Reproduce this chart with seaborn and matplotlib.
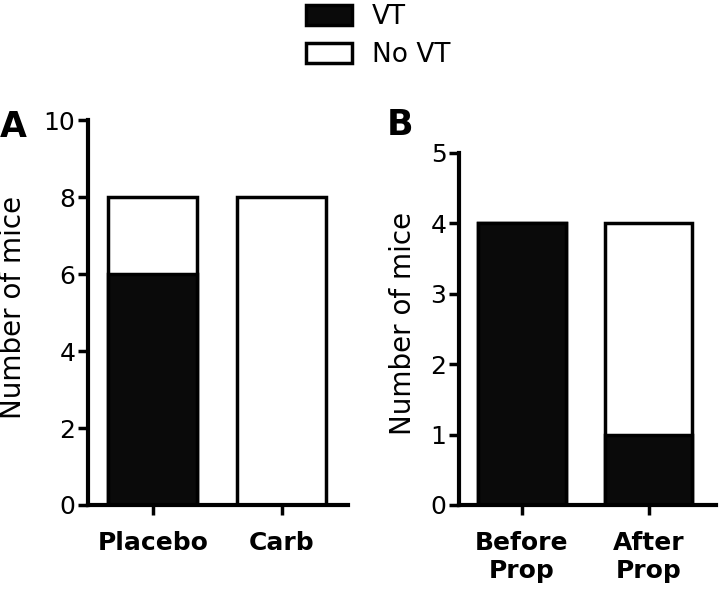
import matplotlib
matplotlib.use("Agg")
import matplotlib.pyplot as plt
import seaborn as sns
import pandas as pd
from matplotlib.patches import Patch

sns.set_style("ticks")
plt.rcParams['font.family'] = ['DejaVu Sans']
plt.rcParams.update({"text.color": "black", "axes.labelcolor": "black",
                     "xtick.color": "black", "ytick.color": "black",
                     "axes.edgecolor": "black"})

# Data
cats_a = ["Placebo", "Carb"]
vt_a = [6, 0]
total_a = [8, 8]
cats_b = ["Before\nProp", "After\nProp"]
vt_b = [4, 1]
total_b = [4, 4]

fig = plt.figure(figsize=(7.2, 5.93), dpi=100)
axA = fig.add_axes([0.122, 0.1484, 0.361, 0.6492])
axB = fig.add_axes([0.6375, 0.1484, 0.3565, 0.5936])

def draw(ax, cats, vt, total, ymax, yticks, xlim, lab_xy):
    df = pd.DataFrame({"cat": cats, "total": total, "vt": vt})
    sns.barplot(data=df, x="cat", y="total", color="white", edgecolor="black",
                linewidth=2.5, width=0.69, ax=ax, saturation=1)
    sns.barplot(data=df, x="cat", y="vt", color="#0a0a0a", edgecolor="black",
                linewidth=2.5, width=0.69, ax=ax, saturation=1)
    ax.set_ylim(0, ymax)
    ax.set_xlim(*xlim)
    ax.set_yticks(yticks)
    ax.set_xlabel("")
    ax.set_ylabel("Number of mice", fontsize=20)
    ax.yaxis.set_label_coords(*lab_xy)
    for s in ["top", "right"]:
        ax.spines[s].set_visible(False)
    for s in ["left", "bottom"]:
        ax.spines[s].set_linewidth(3)
    ax.tick_params(axis="y", labelsize=18, width=2.5, length=7, direction="out", pad=2)
    ax.tick_params(axis="x", labelsize=18, width=2.5, length=7, direction="out", pad=12)
    for t in ax.get_xticklabels():
        t.set_fontweight("bold")

draw(axA, cats_a, vt_a, total_a, 10, [0, 2, 4, 6, 8, 10], (-0.504, 1.51), (-0.235, 0.514))
draw(axB, cats_b, vt_b, total_b, 5, [0, 1, 2, 3, 4, 5], (-0.496, 1.528), (-0.163, 0.517))

fig.text(0.0, 0.786, "A", fontsize=25, fontweight="bold", va="center", ha="left")
fig.text(0.537, 0.789, "B", fontsize=25, fontweight="bold", va="center", ha="left")

handles = [Patch(facecolor="#0a0a0a", edgecolor="black", linewidth=2.5, label="VT"),
           Patch(facecolor="white", edgecolor="black", linewidth=2.5, label="No VT")]
fig.legend(handles=handles, loc="upper left", bbox_to_anchor=(0.392, 1.033),
           frameon=False, fontsize=19, handlelength=1.75, handleheight=0.75,
           labelspacing=0.45, handletextpad=0.75)

fig.savefig("out.png", dpi=100)
